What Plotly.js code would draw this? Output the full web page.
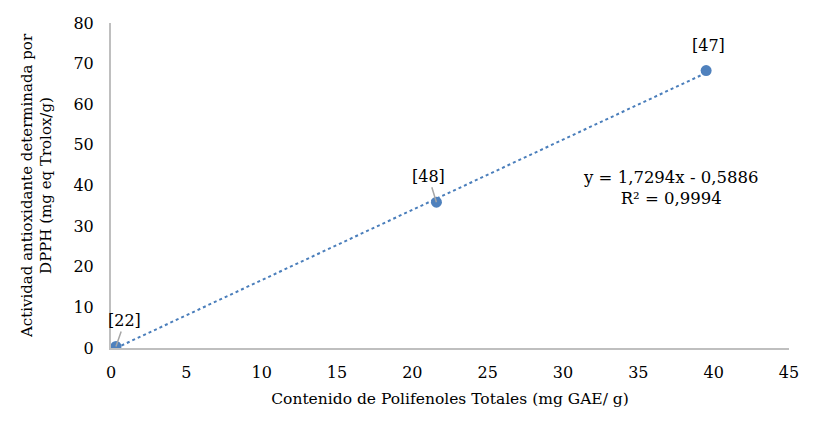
<!DOCTYPE html>
<html><head><meta charset="utf-8">
<script src="https://cdn.plot.ly/plotly-3.0.1.min.js"></script>
<style>html,body{margin:0;padding:0;background:#fff}#chart{width:824px;height:436px}</style>
</head><body><div id="chart"></div>
<script>
const refs = ['[22]', '[48]', '[47]'];
const polifenoles = [0.33, 21.6, 39.5];
const actividad = [0.4, 35.9, 68.3];
const slope = 1.7294;
const intercept = -0.5886;
const r2 = 0.9994;
const xTicks = [0,5,10,15,20,25,30,35,40,45];
const yTicks = [0,10,20,30,40,50,60,70,80];

const FONT = '"DejaVu Serif", "Liberation Serif", serif';
const fmt = (v, d) => Math.abs(v).toFixed(d).replace('.', ',');
const xMin = Math.min(...polifenoles), xMax = Math.max(...polifenoles);

const traces = [
  {x: [xMin, xMax], y: [slope*xMin+intercept, slope*xMax+intercept], mode: 'lines',
   line: {color: '#4a7ebb', width: 2, dash: 'dot'}, hoverinfo: 'skip', showlegend: false},
  {x: polifenoles, y: actividad, mode: 'markers',
   marker: {color: '#4f81bd', size: 11}, showlegend: false}
];

const labelOff = [[9, -26], [-8, -26], [2, -25]];
const arrowCols = ['#a6a6a6', '#a6a6a6', 'rgba(0,0,0,0)'];
const annotations = refs.map((r, i) => ({
  x: polifenoles[i], y: actividad[i], xref: 'x', yref: 'y', text: r,
  showarrow: true, arrowhead: 0, arrowwidth: 1.5, arrowcolor: arrowCols[i],
  ax: labelOff[i][0], ay: labelOff[i][1], standoff: 0,
  font: {family: FONT, size: 16, color: '#000'}
}));
annotations.push({
  xref: 'paper', yref: 'paper', x: (670-111)/678, y: (348-188)/325,
  xanchor: 'center', yanchor: 'middle',
  text: 'y = ' + fmt(slope,4) + 'x ' + (intercept < 0 ? '- ' : '+ ') + fmt(intercept,4) + '<br>R² = ' + fmt(r2,4),
  showarrow: false, align: 'center', font: {family: FONT, size: 16.5, color: '#000'}
});

const layout = {
  width: 824, height: 436,
  margin: {l: 111, r: 35, t: 23, b: 88},
  paper_bgcolor: '#fff', plot_bgcolor: '#fff',
  font: {family: FONT, size: 15, color: '#000'},
  xaxis: {range: [0, 45], tickvals: xTicks, ticktext: xTicks.map(String), showgrid: false, zeroline: false,
    showline: true, linecolor: '#bfbfbf', linewidth: 2, ticks: '', ticklen: 0, ticklabelstandoff: 9,
    tickfont: {family: FONT, size: 16},
    title: {text: 'Contenido de Polifenoles Totales (mg GAE/ g)', font: {family: FONT, size: 15.5}, standoff: 12}},
  yaxis: {range: [0, 80], tickvals: yTicks, ticktext: yTicks.map(String), showgrid: false, zeroline: false,
    showline: true, linecolor: '#bfbfbf', linewidth: 2, ticks: '', ticklen: 0, ticklabelstandoff: 12,
    tickfont: {family: FONT, size: 16},
    title: {text: 'Actividad antioxidante determinada por<br>DPPH (mg eq Trolox/g)', font: {family: FONT, size: 15}, standoff: 18}},
  annotations: annotations
};
Plotly.newPlot('chart', traces, layout, {displayModeBar: false, staticPlot: true});
</script></body></html>
